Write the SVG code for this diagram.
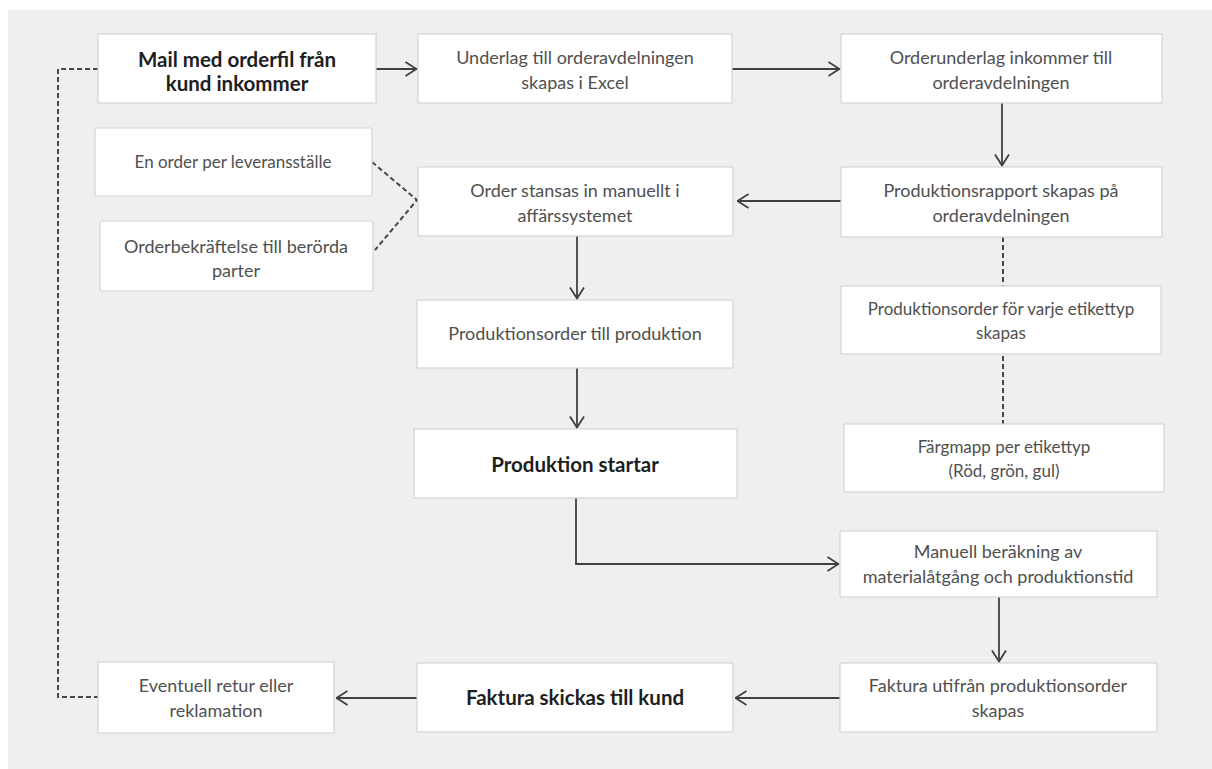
<svg xmlns="http://www.w3.org/2000/svg" width="1212" height="769" viewBox="0 0 1212 769">
<style>
.bg{fill:#efefef}
.box{fill:#ffffff;stroke:#d4d4d4;stroke-width:1.2}
.t{font-family:Lato,"Open Sans","Liberation Sans",sans-serif;font-size:18px;fill:#505050;text-anchor:middle}
.s{font-size:17px}
.b{font-family:Lato,"Open Sans","Liberation Sans",sans-serif;font-size:20.5px;font-weight:bold;fill:#1e1e1e;text-anchor:middle}
.ln{fill:none;stroke:#404040;stroke-width:1.8}
.dl{fill:none;stroke:#484848;stroke-width:2;stroke-dasharray:5 3}
</style>
<defs>
<marker id="arr" viewBox="0 0 13 16" refX="12.5" refY="8" markerWidth="13" markerHeight="16" markerUnits="userSpaceOnUse" orient="auto">
<path d="M1,1 L12,8 L1,15" fill="none" stroke="#404040" stroke-width="1.8"/>
</marker>
</defs>
<rect class="bg" x="8" y="10" width="1204" height="759"/>

<g id="connectors">
<path class="ln" d="M376,69 H417" marker-end="url(#arr)"/>
<path class="ln" d="M732,69 H840" marker-end="url(#arr)"/>
<path class="ln" d="M1002,103 V166" marker-end="url(#arr)"/>
<path class="ln" d="M841,201 H737" marker-end="url(#arr)"/>
<path class="ln" d="M577,236 V299" marker-end="url(#arr)"/>
<path class="ln" d="M577,368 V428" marker-end="url(#arr)"/>
<path class="ln" d="M576,498 V564 H839" marker-end="url(#arr)"/>
<path class="ln" d="M999,597 V662" marker-end="url(#arr)"/>
<path class="ln" d="M840,698 H735" marker-end="url(#arr)"/>
<path class="ln" d="M417,698 H336" marker-end="url(#arr)"/>
<path class="dl" d="M98,69 H58 V697 H98"/>
<path class="dl" d="M372,162 L417,200 L375,250"/>
<path class="dl" d="M1003,237 V286"/>
<path class="dl" d="M1003,356 V424"/>
</g>

<g id="n1"><rect class="box" x="98" y="34" width="278" height="69"/>
<text class="b" x="237" y="67">Mail  med orderfil från</text>
<text class="b" x="237" y="91">kund  inkommer</text></g>

<g id="n2"><rect class="box" x="418" y="34" width="314" height="69"/>
<text class="t" x="575" y="64">Underlag till orderavdelningen</text>
<text class="t" x="575" y="89">skapas i Excel</text></g>

<g id="n3"><rect class="box" x="841" y="34" width="321" height="69"/>
<text class="t" x="1001" y="64">Orderunderlag inkommer till</text>
<text class="t" x="1001" y="89">orderavdelningen</text></g>

<g id="n4"><rect class="box" x="841" y="167" width="321" height="70"/>
<text class="t" x="1001" y="197">Produktionsrapport skapas på</text>
<text class="t" x="1001" y="222">orderavdelningen</text></g>

<g id="n5"><rect class="box" x="418" y="167" width="315" height="69"/>
<text class="t" x="575" y="197">Order stansas in manuellt i</text>
<text class="t" x="575" y="222">affärssystemet</text></g>

<g id="n6"><rect class="box" x="95" y="128" width="277" height="68" rx="2"/>
<text class="t s" x="233" y="168">En order per leveransställe</text></g>

<g id="n7"><rect class="box" x="100" y="221" width="273" height="70" rx="2"/>
<text class="t" x="236" y="253">Orderbekräftelse till berörda</text>
<text class="t" x="236" y="277">parter</text></g>

<g id="n8"><rect class="box" x="417" y="300" width="316" height="68"/>
<text class="t" x="575" y="340">Produktionsorder till produktion</text></g>

<g id="n9"><rect class="box" x="414" y="429" width="323" height="69"/>
<text class="b" x="575" y="472">Produktion startar</text></g>

<g id="n10"><rect class="box" x="841" y="286" width="320" height="68"/>
<text class="t s" x="1001" y="315">Produktionsorder för varje etikettyp</text>
<text class="t s" x="1001" y="339">skapas</text></g>

<g id="n11"><rect class="box" x="844" y="424" width="320" height="68"/>
<text class="t s" x="1004" y="453">Färgmapp per etikettyp</text>
<text class="t s" x="1004" y="477">(Röd, grön, gul)</text></g>

<g id="n12"><rect class="box" x="840" y="531" width="317" height="66"/>
<text class="t" x="998" y="558">Manuell beräkning av</text>
<text class="t" x="998" y="583">materialåtgång och produktionstid</text></g>

<g id="n13"><rect class="box" x="840" y="663" width="317" height="69"/>
<text class="t" x="998" y="692">Faktura utifrån produktionsorder</text>
<text class="t" x="998" y="717">skapas</text></g>

<g id="n14"><rect class="box" x="417" y="663" width="316" height="69"/>
<text class="b" x="575" y="705">Faktura skickas  till kund</text></g>

<g id="n15"><rect class="box" x="98" y="662" width="236" height="71"/>
<text class="t" x="216" y="692">Eventuell retur eller</text>
<text class="t" x="216" y="717">reklamation</text></g>
</svg>
